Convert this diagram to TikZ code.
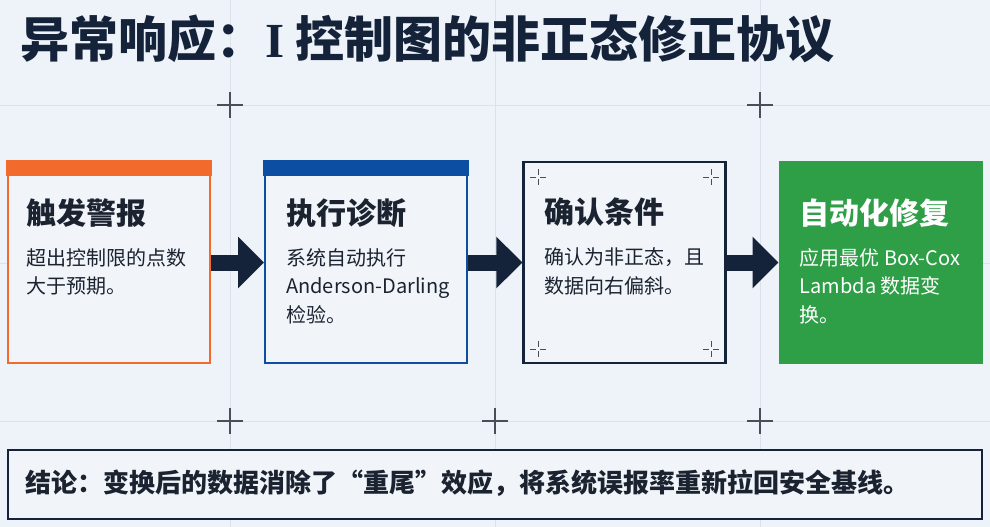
\documentclass[tikz,border=0pt]{standalone}
\usepackage{fontspec}
\setmainfont{Noto Sans CJK SC}
\newfontfamily\serifI{Liberation Serif}
\usetikzlibrary{arrows.meta}
\definecolor{bg}{HTML}{EEF3F9}
\definecolor{gridc}{HTML}{DCE2EA}
\definecolor{navy}{HTML}{14233A}
\definecolor{inkc}{HTML}{1B2330}
\definecolor{orangec}{HTML}{F26A2C}
\definecolor{bluec}{HTML}{0B4EA2}
\definecolor{greenc}{HTML}{2E9E47}
\definecolor{boxfill}{HTML}{F1F5FA}
\definecolor{markc}{HTML}{4A4F57}
\tikzset{
  gridline/.style={draw=gridc, line width=0.8pt},
  crossmark/.style={draw=markc, line width=1.1pt},
  cornermark/.style={draw=markc, line width=0.8pt},
  card/.style={rectangle, inner sep=0pt, minimum width=202pt, minimum height=201pt, line width=2pt, fill=boxfill},
  heading/.style={anchor=base west, inner sep=0pt, text=inkc, font=\bfseries\fontsize{30}{36}\selectfont},
  bodyline/.style={anchor=base west, inner sep=0pt, text=inkc, font=\fontsize{20}{28}\selectfont},
  flowarrow/.style={draw=navy, line width=16pt, -{Triangle[width=50pt,length=26pt]}},
}
\begin{document}
\begin{tikzpicture}[x=1pt,y=-1pt]
\fill[bg] (0,0) rectangle (990,527);
\useasboundingbox (0,0) rectangle (990,527);
% grid
\foreach \gx in {230,495,760} \draw[gridline] (\gx,0) -- (\gx,527);
\foreach \gy in {105,263,421} \draw[gridline] (0,\gy) -- (990,\gy);
\foreach \cx/\cy in {230/105,760/105,230/421,495/421,760/421}
  {\draw[crossmark] (\cx-13,\cy) -- (\cx+13,\cy) (\cx,\cy-13) -- (\cx,\cy+13);}
% title
\node[anchor=base west, inner sep=0pt, text=navy, font=\bfseries\fontsize{49}{56}\selectfont] (title) at (20,57) {异常响应：{\serifI\bfseries I} 控制图的非正态修正协议};
% boxes
\node[card, draw=orangec] (b1) at (108.5,262.5) {};
\node[card, draw=bluec] (b2) at (366,262.5) {};
\node[card, draw=navy, line width=2.2pt] (b3) at (624.5,262.5) {};
\node[card, draw=greenc, fill=greenc] (b4) at (880.5,262.5) {};
\fill[orangec] ([xshift=-1pt,yshift=1pt]b1.north west) rectangle ([xshift=1pt,yshift=-15pt]b1.north east);
\fill[bluec] ([xshift=-1pt,yshift=1pt]b2.north west) rectangle ([xshift=1pt,yshift=-15pt]b2.north east);
% corner marks of box 3
\foreach \mx/\my in {538/177,711/177,538/349,711/349}
  {\draw[cornermark] (\mx-8,\my) -- (\mx-2,\my) (\mx+2,\my) -- (\mx+8,\my)
                     (\mx,\my-8) -- (\mx,\my-2) (\mx,\my+2) -- (\mx,\my+8);}
% texts
\node[heading] (h1) at ([xshift=20pt,yshift=-63pt]b1.north west) {触发警报};
\node[bodyline] (t11) at ([xshift=20pt,yshift=-104pt]b1.north west) {超出控制限的点数};
\node[bodyline] (t12) at ([xshift=20pt,yshift=-132.5pt]b1.north west) {大于预期。};
\node[heading] (h2) at ([xshift=22pt,yshift=-63pt]b2.north west) {执行诊断};
\node[bodyline] (t21) at ([xshift=22pt,yshift=-104pt]b2.north west) {系统自动执行};
\node[bodyline] (t22) at ([xshift=22pt,yshift=-132.5pt]b2.north west) {Anderson-Darling};
\node[bodyline] (t23) at ([xshift=22pt,yshift=-161pt]b2.north west) {检验。};
\node[heading] (h3) at ([xshift=22pt,yshift=-63pt]b3.north west) {确认条件};
\node[bodyline] (t31) at ([xshift=22pt,yshift=-104pt]b3.north west) {确认为非正态，且};
\node[bodyline] (t32) at ([xshift=22pt,yshift=-132.5pt]b3.north west) {数据向右偏斜。};
\node[heading, text=white] (h4) at ([xshift=21pt,yshift=-63pt]b4.north west) {自动化修复};
\node[bodyline, text=white] (t41) at ([xshift=21pt,yshift=-104pt]b4.north west) {应用最优 Box-Cox};
\node[bodyline, text=white] (t42) at ([xshift=21pt,yshift=-132.5pt]b4.north west) {Lambda 数据变};
\node[bodyline, text=white] (t43) at ([xshift=21pt,yshift=-161pt]b4.north west) {换。};
% arrows
\draw[flowarrow] (b1.east) -- (b2.west);
\draw[flowarrow] (b2.east) -- (b3.west);
\draw[flowarrow] (b3.east) -- (b4.west);
% conclusion
\node[rectangle, draw=navy, line width=2pt, fill=boxfill, minimum width=974pt, minimum height=69pt, inner sep=0pt] (concl) at (494.5,484) {};
\node[anchor=base west, inner sep=0pt, text=inkc, font=\bfseries\fontsize{26}{30}\selectfont] (ctext) at ([xshift=19pt,yshift=-8.5pt]concl.west) {结论：变换后的数据消除了“重尾”效应，将系统误报率重新拉回安全基线。};
\end{tikzpicture}
\end{document}
